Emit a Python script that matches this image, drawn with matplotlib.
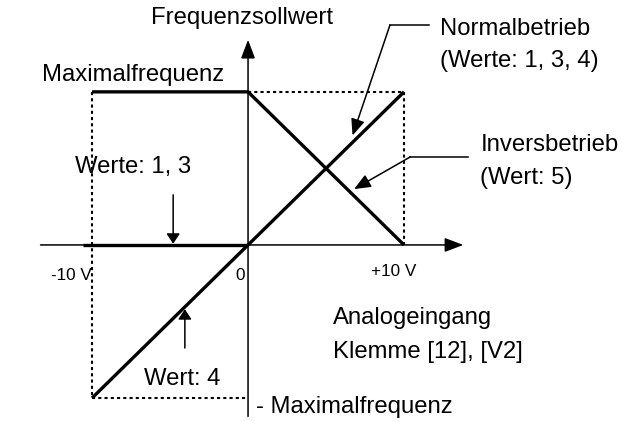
import numpy as np
import matplotlib.pyplot as plt

plt.rcParams['font.family'] = ['Liberation Sans', 'DejaVu Sans']

# Kennlinien (x: Analogeingang in V, y: Frequenzsollwert in % von Maximalfrequenz)
volt = [-10, 0, 10]
normal = [-100, 0, 100]          # Normalbetrieb (Werte: 1, 3, 4)
invers = [100, 100, 0]           # Inversbetrieb (Wert: 5)
werte13_x = [-10.6, 0]
werte13_y = [0, 0]               # Werte 1, 3: negativer Bereich = 0

fmax = 100
vmax = 10

fig = plt.figure(figsize=(6.24, 4.21), dpi=100)
ax = fig.add_axes([0, 0, 1, 1])
ax.set_xlim(-15.9, 24.1)
ax.set_ylim(-115, 160)
ax.axis('off')

lw_thick = 2.4
lw_thin = 1.1

# Achsen mit Pfeilen
axarr = dict(arrowstyle='-|>,head_length=0.95,head_width=0.36', lw=lw_thin,
             color='black', mutation_scale=12, shrinkA=0, shrinkB=0)
ax.annotate('', xy=(13.8, 0), xytext=(-13.3, 0), arrowprops=axarr)
ax.annotate('', xy=(0, 134), xytext=(0, -112), arrowprops=axarr)

# gepunktete Hilfslinien
dot = dict(color='black', lw=1.5, linestyle=(0, (1.5, 1.5)))
ax.plot([-vmax, -vmax], [fmax, -fmax], **dot)
ax.plot([-vmax, 0], [-fmax, -fmax], **dot)
ax.plot([0, vmax], [fmax, fmax], **dot)
ax.plot([vmax, vmax], [fmax, 0], **dot)

# Kennlinien
ax.plot(volt, normal, color='black', lw=lw_thick, solid_capstyle='butt')
ax.plot(volt, invers, color='black', lw=lw_thick, solid_capstyle='butt')
ax.plot(werte13_x, werte13_y, color='black', lw=lw_thick, solid_capstyle='butt')

# Beschriftungen
fs_big = 17.2
fs_small = 12.3
ax.text(-0.4, 148, 'Frequenzsollwert', fontsize=fs_big, ha='center', va='center')
ax.text(-13.2, 111, 'Maximalfrequenz', fontsize=fs_big, ha='left', va='center')
ax.text(12.3, 141, 'Normalbetrieb', fontsize=fs_big, ha='left', va='center')
ax.text(12.3, 120, '(Werte: 1, 3, 4)', fontsize=fs_big, ha='left', va='center')
ax.text(14.9, 65.5, 'Inversbetrieb', fontsize=fs_big, ha='left', va='center')
ax.text(14.9, 43.5, '(Wert: 5)', fontsize=fs_big, ha='left', va='center')
ax.text(-7.4, 51, 'Werte: 1, 3', fontsize=fs_big, ha='center', va='center')
ax.text(-10.0, -20, '-10 V', fontsize=fs_small, ha='right', va='center')
ax.text(-0.5, -20, '0', fontsize=fs_small, ha='center', va='center')
ax.text(9.35, -17.5, '+10 V', fontsize=fs_small, ha='center', va='center')
ax.text(5.45, -48, 'Analogeingang', fontsize=fs_big, ha='left', va='center')
ax.text(5.45, -70, 'Klemme [12], [V2]', fontsize=fs_big, ha='left', va='center')
ax.text(-4.2, -87.5, 'Wert: 4', fontsize=fs_big, ha='center', va='center')
ax.text(0.5, -106, '- Maximalfrequenz', fontsize=fs_big, ha='left', va='center')

# Hinweispfeile
arr = dict(arrowstyle='-|>,head_length=1.0,head_width=0.42', lw=lw_thin,
           color='black', mutation_scale=10, shrinkA=0, shrinkB=0)
arr_s = dict(arrowstyle='-|>,head_length=0.6,head_width=0.4', lw=lw_thin,
             color='black', mutation_scale=10, shrinkA=0, shrinkB=0)
ax.plot([9.1, 11.6], [143.7, 143.7], color='black', lw=lw_thin)
ax.annotate('', xy=(6.7, 71.5), xytext=(9.1, 143.7), arrowprops=arr)
ax.plot([10.4, 14.1], [57.5, 57.5], color='black', lw=lw_thin)
ax.annotate('', xy=(6.8, 36.5), xytext=(10.4, 57.5), arrowprops=arr)
ax.annotate('', xy=(-4.8, 0.8), xytext=(-4.8, 32.7), arrowprops=arr_s)
ax.annotate('', xy=(-4.05, -42), xytext=(-4.05, -67.3), arrowprops=arr_s)

fig.savefig('out.png', dpi=100)
